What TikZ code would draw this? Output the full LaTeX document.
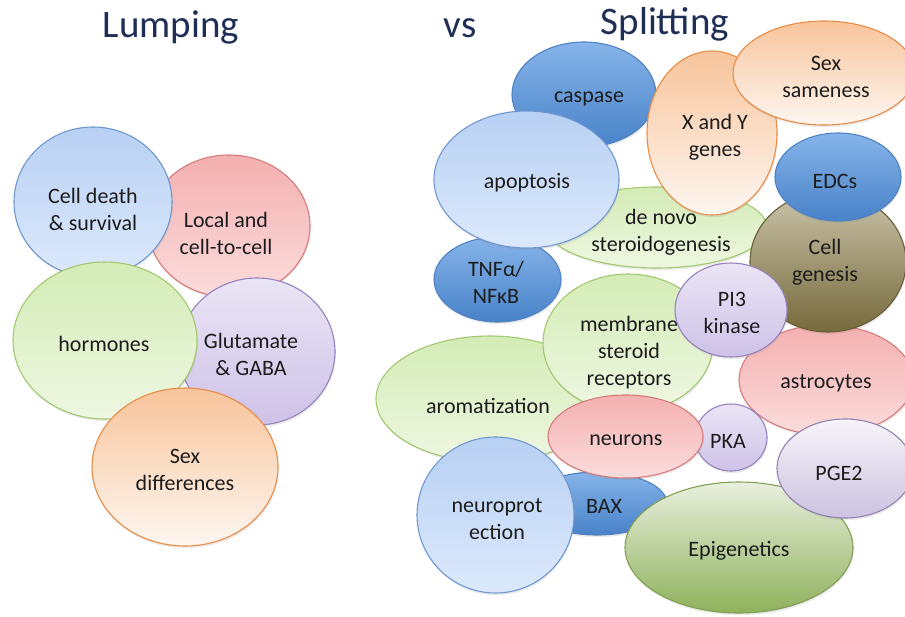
\documentclass[tikz,border=0pt]{standalone}
\usepackage{fontspec}
\setmainfont{Carlito}
\usetikzlibrary{shapes.geometric,shadows}

\definecolor{ink}{RGB}{28,28,28}
\definecolor{navy}{RGB}{30,46,84}
\definecolor{skyT}{RGB}{184,208,243}\definecolor{skyL}{RGB}{220,233,252}\definecolor{skyB}{RGB}{112,152,208}
\definecolor{roseT}{RGB}{244,176,176}\definecolor{roseL}{RGB}{251,220,220}\definecolor{roseB}{RGB}{214,122,122}
\definecolor{leafT}{RGB}{212,236,182}\definecolor{leafL}{RGB}{238,247,226}\definecolor{leafB}{RGB}{162,200,112}
\definecolor{peachT}{RGB}{248,196,155}\definecolor{peachL}{RGB}{253,246,240}\definecolor{peachB}{RGB}{232,140,70}
\definecolor{lilacT}{RGB}{234,229,245}\definecolor{lilacL}{RGB}{206,194,232}\definecolor{lilacB}{RGB}{150,130,190}
\definecolor{deepT}{RGB}{134,180,233}\definecolor{deepL}{RGB}{72,130,200}\definecolor{deepB}{RGB}{80,130,195}
\definecolor{oliveT}{RGB}{202,196,170}\definecolor{oliveL}{RGB}{118,106,60}\definecolor{oliveB}{RGB}{104,94,54}
\definecolor{greyT}{RGB}{246,244,249}\definecolor{greyL}{RGB}{204,195,224}\definecolor{greyB}{RGB}{145,130,176}
\definecolor{mossT}{RGB}{233,239,222}\definecolor{mossL}{RGB}{143,177,92}\definecolor{mossB}{RGB}{128,160,84}

\tikzset{
  blob/.style={ellipse, draw, line width=1.1pt, inner sep=0pt,
    drop shadow={opacity=0.16, shadow xshift=0.8pt, shadow yshift=-2.2pt}},
  skyblob/.style={blob, draw=skyB, top color=skyT, bottom color=skyL},
  roseblob/.style={blob, draw=roseB, top color=roseT, bottom color=roseL},
  leafblob/.style={blob, draw=leafB, top color=leafT, bottom color=leafL},
  peachblob/.style={blob, draw=peachB, top color=peachT, bottom color=peachL},
  lilacblob/.style={blob, draw=lilacB, top color=lilacT, bottom color=lilacL},
  deepblob/.style={blob, draw=deepB, top color=deepT, bottom color=deepL},
  oliveblob/.style={blob, draw=oliveB, top color=oliveT, bottom color=oliveL},
  greyblob/.style={blob, draw=greyB, top color=greyT, bottom color=greyL},
  mossblob/.style={blob, draw=mossB, top color=mossT, bottom color=mossL},
  lbl/.style={align=center, font=\fontsize{22}{27}\selectfont, text=ink, inner sep=0pt},
  heading/.style={font=\fontsize{39}{46}\selectfont, text=navy, anchor=base, inner sep=0pt}
}

% bubble: style, name, centre, width, height, label, label centre
\newcommand\bubble[7]{%
  \node[#1, minimum width=#4pt, minimum height=#5pt] (#2) at (#3) {};
  \node[lbl] (#2-text) at (#7) {#6};}

\begin{document}
\begin{tikzpicture}[x=1pt,y=-1pt]
\useasboundingbox (0,0) rectangle (905,616);
\clip (0,0) rectangle (905,616);

% headings
\node[heading] (lumping) at (171,37) {Lumping};
\node[heading] (versus) at (460,37) {vs};
\node[heading] (splitting) at (665,34) {Splitting};

% lumped categories
\bubble{roseblob}{local}{229,226}{162}{142}{Local and\\cell-to-cell}{226,233}
\bubble{skyblob}{celldeath}{93,202}{158}{150}{Cell death\\\& survival}{93,209}
\bubble{lilacblob}{glutamate}{257,351.5}{156}{147}{Glutamate\\\& GABA}{251,354}
\bubble{leafblob}{hormones}{105,340.5}{184}{157}{hormones}{104,344}
\bubble{peachblob}{sexdiff}{185,467}{186}{158}{Sex\\differences}{185,470}

% split categories
\bubble{deepblob}{caspase}{584,94.5}{144}{105}{caspase}{589,99}
\bubble{leafblob}{denovo}{657,227.5}{220}{81}{de novo\\steroidogenesis}{661,232}
\bubble{deepblob}{tnf}{497.5,279.5}{127}{85}{TNFα/\\NFκB}{496,282}
\bubble{skyblob}{apoptosis}{526.5,179.5}{185}{137}{apoptosis}{527,183}
\bubble{peachblob}{xygenes}{712,133}{130}{164}{X and Y\\genes}{715,137}
\bubble{peachblob}{sexsame}{824,73}{182}{104}{Sex\\sameness}{826,77}
\bubble{roseblob}{astrocytes}{826,380}{174}{110}{astrocytes}{826,383}
\bubble{oliveblob}{cellgen}{828,262}{156}{140}{Cell\\genesis}{825,262}
\bubble{deepblob}{edcs}{838,177}{126}{88}{EDCs}{835,181}
\bubble{leafblob}{aromat}{490,399}{228}{126}{aromatization}{488,406}
\bubble{leafblob}{membrane}{628,343}{170}{138}{membrane\\steroid\\receptors}{629,353}
\bubble{lilacblob}{pithree}{731,310}{112}{94}{PI3\\kinase}{732,313}
\bubble{lilacblob}{pka}{731,437.5}{72}{67}{PKA}{728,441}
\bubble{deepblob}{bax}{597,503.5}{140}{63}{BAX}{604,506}
\bubble{skyblob}{neuroprot}{495.5,515}{157}{156}{neuroprot\\ection}{497,519}
\bubble{roseblob}{neurons}{625.5,436.5}{155}{83}{neurons}{626,440}
\bubble{mossblob}{epigen}{739,547.5}{228}{131}{Epigenetics}{739,551}
\bubble{greyblob}{pgetwo}{845,468.5}{136}{99}{PGE2}{839,473}
\end{tikzpicture}
\end{document}
